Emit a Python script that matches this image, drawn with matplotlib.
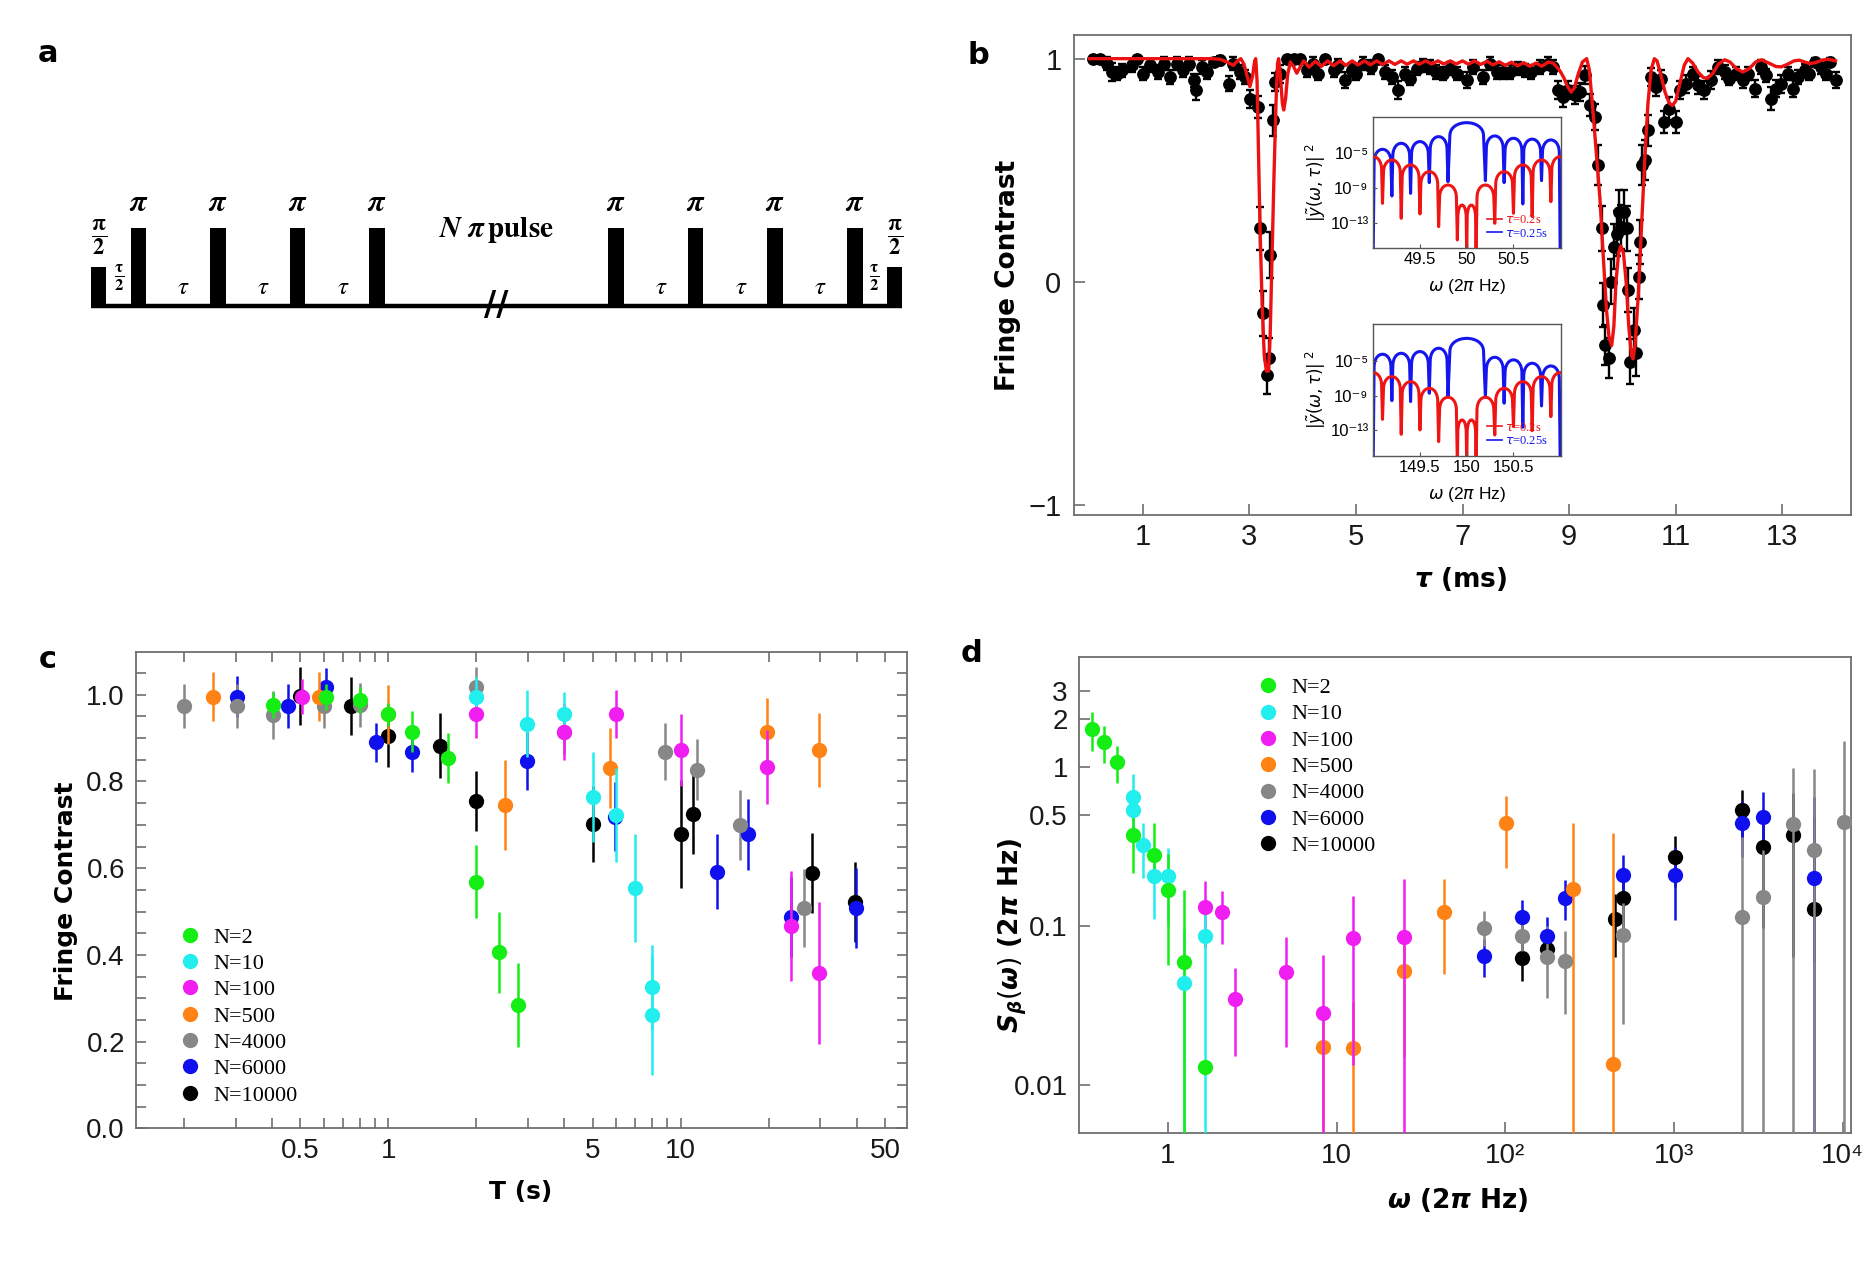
import matplotlib
matplotlib.use('Agg')
import matplotlib.pyplot as plt
from matplotlib.path import Path
from matplotlib.patches import PathPatch
from matplotlib.lines import Line2D
from matplotlib.ticker import FixedLocator, FixedFormatter, NullLocator

# ====================== DATA ======================
# ---- panel a : pulse sequence (positions in units of tau) ----
pi_pulse_pos = [0.5, 1.5, 2.5, 3.5, 6.5, 7.5, 8.5, 9.5]
half_pulse_pos = [0.0, 10.0]
pi_height = 1.0
half_height = 0.5
tau_label_pos = [1.0, 2.0, 3.0, 7.0, 8.0, 9.0]
half_tau_label_pos = [0.26, 9.74]
break_pos = 5.0

# ---- panel b : fringe contrast vs tau (ms) ----
tau_b = [0.075, 0.19, 0.325, 0.42, 0.51, 0.61, 0.79, 0.89, 1.01, 1.14, 1.29, 1.39, 1.51, 1.64, 1.76,
         1.86, 1.96, 2.0, 2.11, 2.2, 2.33, 2.45, 2.61, 2.7, 2.83, 2.92, 3.01, 3.16, 3.2, 3.25, 3.33,
         3.36, 3.39, 3.45, 3.48, 3.58, 3.7, 3.83, 3.95, 4.08, 4.2, 4.29, 4.42, 4.58, 4.67, 4.79,
         4.92, 5.01, 5.14, 5.29, 5.42, 5.54, 5.67, 5.79, 5.92, 6.01, 6.14, 6.26, 6.39, 6.51, 6.64,
         6.76, 6.89, 7.08, 7.2, 7.39, 7.51, 7.64, 7.76, 7.89, 8.04, 8.17, 8.29, 8.45, 8.61, 8.7,
         8.79, 8.89, 8.98, 9.11, 9.2, 9.29, 9.39, 9.49, 9.55, 9.61, 9.64, 9.68, 9.74, 9.79, 9.84,
         9.89, 9.94, 9.98, 10.03, 10.08, 10.11, 10.15, 10.21, 10.26, 10.31, 10.34, 10.37, 10.42,
         10.49, 10.54, 10.64, 10.73, 10.79, 10.87, 11.0, 11.08, 11.2, 11.33, 11.42, 11.54, 11.67,
         11.79, 11.92, 12.01, 12.14, 12.26, 12.36, 12.48, 12.61, 12.7, 12.79, 12.89, 12.98, 13.11,
         13.2, 13.29, 13.42, 13.51, 13.61, 13.73, 13.83, 13.89, 14.0]
fc_b = [1.0, 1.0, 0.978, 0.94, 0.933, 0.948, 0.97, 1.0, 0.933, 0.97, 0.94, 0.978, 0.918, 0.978, 0.948,
        0.978, 0.903, 0.858, 0.963, 0.94, 0.985, 0.993, 0.888, 0.978, 0.94, 0.918, 0.82, 0.784, 0.239,
        -0.142, -0.418, -0.343, 0.119, 0.724, 0.896, 0.933, 1.0, 1.0, 1.0, 0.948, 0.978, 0.933, 1.0,
        0.948, 0.97, 0.903, 0.948, 0.933, 0.978, 0.963, 1.0, 0.94, 0.918, 0.858, 0.933, 0.91, 0.955,
        0.97, 0.963, 0.94, 0.933, 0.955, 0.933, 0.903, 0.963, 0.918, 0.978, 0.94, 0.94, 0.94, 0.955,
        0.948, 0.94, 0.963, 0.978, 0.963, 0.858, 0.828, 0.858, 0.836, 0.851, 0.925, 0.791, 0.739,
        0.522, 0.239, -0.104, -0.284, -0.343, 0.0, 0.157, 0.216, 0.313, 0.246, 0.313, 0.239, -0.037,
        -0.358, -0.216, -0.321, 0.022, 0.179, 0.522, 0.545, 0.679, 0.918, 0.873, 0.91, 0.716, 0.776,
        0.716, 0.858, 0.888, 0.933, 0.881, 0.858, 0.903, 0.963, 0.94, 0.91, 0.933, 0.903, 0.933,
        0.866, 0.963, 0.925, 0.821, 0.866, 0.888, 0.933, 0.866, 0.918, 0.948, 0.933, 0.985, 0.963,
        0.933, 0.985, 0.903]
err_b = [0.01, 0.01, 0.03, 0.04, 0.03, 0.03, 0.03, 0.01, 0.03, 0.03, 0.03, 0.03, 0.03, 0.03, 0.03,
         0.03, 0.03, 0.045, 0.03, 0.03, 0.02, 0.02, 0.035, 0.03, 0.03, 0.03, 0.04, 0.05, 0.097,
         0.1, 0.085, 0.09, 0.104, 0.07, 0.04, 0.04, 0.01, 0.01, 0.01, 0.03, 0.03, 0.03, 0.01,
         0.03, 0.03, 0.035, 0.03, 0.03, 0.03, 0.03, 0.01, 0.03, 0.03, 0.04, 0.03, 0.03, 0.03,
         0.03, 0.03, 0.03, 0.03, 0.03, 0.03, 0.035, 0.03, 0.03, 0.03, 0.03, 0.03, 0.03, 0.03,
         0.03, 0.03, 0.03, 0.03, 0.03, 0.04, 0.045, 0.04, 0.04, 0.04, 0.04, 0.05, 0.06,
         0.09, 0.1, 0.1, 0.09, 0.09, 0.1, 0.1, 0.1, 0.1, 0.1, 0.1, 0.1, 0.1,
         0.1, 0.1, 0.1, 0.1, 0.1, 0.09, 0.09, 0.07, 0.04, 0.04, 0.04, 0.05, 0.05,
         0.05, 0.04, 0.04, 0.03, 0.04, 0.04, 0.04, 0.03, 0.03, 0.03, 0.03, 0.035, 0.03,
         0.04, 0.03, 0.03, 0.05, 0.04, 0.04, 0.03, 0.04, 0.03, 0.03, 0.03, 0.02, 0.03,
         0.03, 0.02, 0.035]

fit_tau = [0.0, 2.3, 2.45, 2.58, 2.7, 2.78, 2.84, 2.9, 2.96, 3.01, 3.06, 3.10, 3.12, 3.145, 3.17,
           3.2, 3.24, 3.28, 3.32, 3.36, 3.39, 3.42, 3.46, 3.5, 3.53, 3.55, 3.58, 3.62, 3.645, 3.68,
           3.72, 3.77, 3.83, 3.89, 3.95, 4.02, 4.12, 4.24, 4.35, 4.47, 4.58, 4.70, 4.81, 4.93, 5.04,
           5.16, 5.27, 5.39, 5.50, 5.62, 5.73, 5.85, 5.96, 6.08, 6.19, 6.31, 6.42, 6.54, 6.65, 6.77,
           6.88, 7.00, 7.11, 7.23, 7.34, 7.46, 7.57, 7.69, 7.80, 7.92, 8.03, 8.15, 8.26, 8.38, 8.49,
           8.61, 8.70, 8.76, 8.83, 8.9, 8.97, 9.04, 9.1, 9.17, 9.25, 9.33, 9.38, 9.45, 9.52, 9.58,
           9.64, 9.7, 9.75, 9.8, 9.84, 9.88, 9.93, 9.97, 10.02, 10.07, 10.12, 10.17, 10.2, 10.24,
           10.3, 10.36, 10.42, 10.48, 10.54, 10.6, 10.65, 10.72, 10.8, 10.88, 10.94, 11.0, 11.08,
           11.16, 11.23, 11.32, 11.42, 11.52, 11.6, 11.7, 11.8, 11.92, 12.02, 12.14, 12.26, 12.38,
           12.5, 12.61, 12.75, 12.88, 12.98, 13.1, 13.22, 13.32, 13.42, 13.52, 13.62, 13.74, 13.85,
           13.95, 14.0]
fit_fc = [1.0, 1.0, 0.997, 0.985, 0.97, 0.99, 1.0, 0.975, 0.92, 0.875, 0.92, 0.99, 1.0, 0.9, 0.6,
          0.25, -0.1, -0.33, -0.40, -0.40, -0.25, 0.05, 0.45, 0.8, 0.98, 1.0, 0.93, 0.8, 0.77, 0.82,
          0.93, 0.985, 0.965, 0.935, 0.96, 0.99, 0.962, 0.988, 0.965, 0.99, 0.968, 0.99, 0.97, 0.99,
          0.972, 0.99, 0.972, 0.99, 0.974, 0.99, 0.974, 0.99, 0.975, 0.99, 0.975, 0.99, 0.976, 0.99,
          0.976, 0.99, 0.976, 0.99, 0.975, 0.99, 0.974, 0.988, 0.972, 0.986, 0.97, 0.984, 0.968,
          0.982, 0.966, 0.98, 0.966, 0.985, 0.98, 0.965, 0.945, 0.915, 0.875, 0.85, 0.87, 0.93,
          0.985, 1.0, 0.95, 0.76, 0.55, 0.37, 0.12, -0.12, -0.25, -0.285, -0.2, 0.0, 0.13, 0.16,
          0.13, 0.0, -0.2, -0.33, -0.345, -0.28, -0.05, 0.25, 0.55, 0.8, 0.95, 1.0, 0.99, 0.93,
          0.85, 0.8, 0.79, 0.81, 0.89, 0.97, 1.0, 0.98, 0.94, 0.915, 0.912, 0.935, 0.975, 0.995,
          0.985, 0.955, 0.94, 0.955, 0.985, 0.995, 0.98, 0.965, 0.963, 0.975, 0.99, 0.993, 0.985,
          0.978, 0.982, 0.993, 0.997, 0.993, 0.99]

# ---- panel b insets : filter function (log10 values at notches and lobe tops) ----
in1_blue_notch_x = [49.0, 49.2, 49.4, 49.6, 49.8, 50.2, 50.4, 50.6, 50.8, 51.0]
in1_blue_notch_y = [-17, -9.93, -9.62, -8.39, -8.27, -8.16, -8.39, -10.85, -8.16, -17]
in1_blue_peak_y = [-4.54, -3.85, -3.65, -3.08, -1.47, -3.0, -3.27, -3.37, -3.46]
in1_red_notch_x = [48.9, 49.1, 49.3, 49.5, 49.7, 49.9, 50.0, 50.1, 50.3, 50.5, 50.7, 50.9, 51.1]
in1_red_notch_y = [-10.6, -10.77, -12.5, -12.0, -13.46, -15.0, -17, -17, -13.08, -11.92, -12.3, -10.58, -10.6]
in1_red_peak_y = [-5.39, -5.77, -6.35, -7.12, -8.66, -10.97, -10.97, -8.66, -7.12, -6.35, -5.77, -5.39]

in2_blue_notch_x = [149.0, 149.2, 149.4, 149.6, 149.8, 150.2, 150.4, 150.6, 150.8, 151.0]
in2_blue_notch_y = [-17, -9.58, -9.69, -8.73, -9.04, -9.19, -9.88, -12.65, -10.19, -17]
in2_blue_peak_y = [-4.23, -4.12, -3.92, -3.54, -2.4, -4.58, -4.88, -5.27, -5.58]
in2_red_notch_x = [148.9, 149.1, 149.3, 149.5, 149.7, 149.9, 150.0, 150.1, 150.3, 150.5, 150.7, 150.9, 151.1]
in2_red_notch_y = [-11.4, -11.73, -13.46, -12.96, -14.3, -17, -17, -17, -13.54, -12.57, -13.04, -11.42, -11.4]
in2_red_peak_y = [-6.35, -6.81, -7.39, -8.16, -9.19, -11.8, -11.8, -9.19, -8.16, -7.39, -6.81, -6.35]

# ---- panel c : fringe contrast vs T (s) ----
c_labels = ['N=2', 'N=10', 'N=100', 'N=500', 'N=4000', 'N=6000', 'N=10000']
c_T = [
    [0.404, 0.61, 0.80, 1.0, 1.208, 1.604, 2.0, 2.39, 2.78],
    [2.0, 2.99, 4.0, 5.0, 6.0, 6.98, 8.0, 8.0],
    [0.505, 2.0, 4.0, 6.0, 10.0, 19.8, 23.8, 29.7],
    [0.252, 0.579, 1.0, 2.5, 5.73, 19.8, 29.7],
    [0.2, 0.303, 0.404, 0.604, 0.80, 2.0, 4.0, 8.84, 11.4, 15.9, 26.4],
    [0.303, 0.454, 0.611, 0.905, 1.208, 2.99, 5.98, 13.3, 17.0, 23.8, 39.7],
    [0.5, 0.743, 1.0, 1.502, 2.0, 5.0, 10.0, 11.0, 28.2, 39.4],
]
c_val = [
    [0.977, 0.996, 0.987, 0.955, 0.915, 0.854, 0.569, 0.406, 0.285],
    [0.996, 0.933, 0.955, 0.765, 0.723, 0.555, 0.325, 0.262],
    [0.996, 0.955, 0.914, 0.956, 0.873, 0.833, 0.467, 0.358],
    [0.996, 0.996, 0.955, 0.746, 0.831, 0.914, 0.872],
    [0.975, 0.975, 0.954, 0.975, 0.977, 1.019, 0.914, 0.869, 0.827, 0.70, 0.508],
    [0.996, 0.975, 1.018, 0.89, 0.869, 0.848, 0.719, 0.592, 0.678, 0.488, 0.508],
    [0.997, 0.975, 0.906, 0.883, 0.755, 0.702, 0.679, 0.725, 0.589, 0.522],
]
c_err = [
    [0.03, 0.03, 0.03, 0.027, 0.048, 0.057, 0.085, 0.093, 0.097],
    [0.044, 0.077, 0.051, 0.104, 0.108, 0.125, 0.098, 0.138],
    [0.04, 0.054, 0.065, 0.056, 0.083, 0.085, 0.127, 0.164],
    [0.057, 0.057, 0.068, 0.104, 0.092, 0.078, 0.085],
    [0.051, 0.051, 0.055, 0.051, 0.051, 0.045, 0.05, 0.065, 0.07, 0.08, 0.09],
    [0.047, 0.051, 0.044, 0.044, 0.046, 0.067, 0.079, 0.087, 0.082, 0.092, 0.092],
    [0.066, 0.067, 0.072, 0.076, 0.069, 0.087, 0.124, 0.093, 0.092, 0.093],
]

# ---- panel d : noise spectrum ----
d_w = [
    [0.356, 0.417, 0.501, 0.623, 0.83, 1.0, 1.25, 1.66],
    [0.623, 0.623, 0.714, 0.83, 1.0, 1.25, 1.66],
    [1.66, 2.08, 2.5, 5.0, 8.33, 12.5, 25.0],
    [8.33, 12.5, 25.0, 43.5, 100.8, 252.7, 436],
    [75, 124.8, 175.7, 226.6, 500, 2538, 3350, 5045, 6780, 10170],
    [75, 124.8, 175.7, 226.6, 500, 1012, 2538, 3350, 6780],
    [124.8, 175.7, 448, 500, 1012, 2538, 3350, 5045, 6780],
]
d_S = [
    [1.73, 1.45, 1.085, 0.375, 0.281, 0.169, 0.0594, 0.013],
    [0.648, 0.539, 0.325, 0.207, 0.207, 0.0438, 0.087],
    [0.1316, 0.1225, 0.0349, 0.0514, 0.0284, 0.084, 0.0853],
    [0.0175, 0.0173, 0.0524, 0.1237, 0.449, 0.1726, 0.01355],
    [0.098, 0.0869, 0.0645, 0.0605, 0.0882, 0.114, 0.152, 0.44, 0.302, 0.455],
    [0.065, 0.115, 0.0874, 0.15, 0.209, 0.209, 0.449, 0.49, 0.201],
    [0.063, 0.072, 0.112, 0.15, 0.272, 0.539, 0.317, 0.375, 0.129],
]
d_lo = [
    [1.27, 1.07, 0.80, 0.215, 0.2, 0.057, 1e-4, 0.013],
    [0.46, 0.39, 0.2, 0.112, 0.1, 1e-4, 1e-4],
    [0.0727, 0.078, 0.0153, 0.0175, 1e-4, 0.0134, 1e-4],
    [1e-4, 1e-4, 0.015, 0.050, 0.234, 1e-4, 1e-4],
    [0.075, 0.07, 0.0356, 0.028, 0.0245, 1e-4, 1e-4, 1e-4, 1e-4, 1e-4],
    [0.048, 0.085, 0.06, 0.11, 0.155, 0.109, 0.274, 0.274, 1e-4],
    [0.0455, 0.06, 0.0645, 0.08, 0.178, 0.366, 0.098, 0.0645, 0.06],
]
d_hi = [
    [2.22, 1.82, 1.37, 0.62, 0.449, 0.285, 0.169, 0.013],
    [0.908, 0.65, 0.449, 0.31, 0.31, 0.0957, 0.12],
    [0.194, 0.168, 0.055, 0.086, 0.066, 0.156, 0.198],
    [0.030, 0.0336, 0.090, 0.198, 0.663, 0.445, 0.388],
    [0.125, 0.11, 0.1, 0.0935, 0.14, 0.366, 0.3, 0.99, 0.98, 1.47],
    [0.083, 0.146, 0.115, 0.195, 0.282, 0.314, 0.617, 0.703, 0.654],
    [0.08, 0.085, 0.16, 0.2, 0.372, 0.72, 0.48, 0.693, 0.49],
]

series_colors = ['#14ee14', '#22eeee', '#f01ef0', '#ff8214', '#878787', '#1010ee', '#000000']

# ====================== STYLE ======================
TICK_FONT = ['Liberation Sans Narrow', 'Liberation Sans', 'DejaVu Sans']
LABEL_FONT = ['DejaVu Sans']
SERIF = ['Liberation Serif', 'DejaVu Serif']
FRAME = '#6e6e6e'

W, H = 1875, 1275
fig = plt.figure(figsize=(W / 100, H / 100), dpi=100)


def box(l, t, r, b):
    return [l / W, 1 - b / H, (r - l) / W, (b - t) / H]


def style(ax, size=20, top=False, right=False, length=8):
    for s in ax.spines.values():
        s.set_color(FRAME)
        s.set_linewidth(1.3)
    ax.tick_params(which='both', direction='in', color=FRAME, width=1.2, length=length,
                   labelsize=size, labelcolor='#1a1a1a', top=top, right=right)
    for lab in ax.get_xticklabels() + ax.get_yticklabels():
        lab.set_family(TICK_FONT)


# ====================== PANEL a ======================
ax_a = fig.add_axes(box(60, 180, 930, 340))
ax_a.set_xlim(-0.485, 10.445)
ax_a.set_ylim(-0.436, 1.615)
ax_a.axis('off')
pw = 0.197
ax_a.bar(pi_pulse_pos, [pi_height] * len(pi_pulse_pos), width=pw, color='black', zorder=3)
ax_a.bar(half_pulse_pos, [half_height] * len(half_pulse_pos), width=pw, color='black', zorder=3)
ax_a.plot([half_pulse_pos[0] - pw / 2, half_pulse_pos[-1] + pw / 2], [0, 0], color='black',
          lw=3.2, solid_capstyle='butt', zorder=2)
ax_a.text(break_pos, 0, '//', fontsize=24, fontweight='bold', ha='center', va='center',
          family=LABEL_FONT, zorder=4)
for p in pi_pulse_pos:
    ax_a.text(p, pi_height + 0.14, r'$\mathbfit{\pi}$', fontsize=22, ha='center', va='bottom',
              math_fontfamily='stix')
for p in half_pulse_pos:
    ax_a.text(p, half_height + 0.12, r'$\mathbf{\frac{\pi}{2}}$', fontsize=23, ha='center',
              va='bottom', math_fontfamily='stix')
for p in tau_label_pos:
    ax_a.text(p + 0.07, 0.24, r'$\tau$', fontsize=18, ha='center', va='center',
              math_fontfamily='stix')
for p in half_tau_label_pos:
    ax_a.text(p, 0.36, r'$\mathbf{\frac{\tau}{2}}$', fontsize=17, ha='center', va='center',
              math_fontfamily='stix')
ax_a.text(break_pos, 0.97, r'$\mathbfit{N}\ \mathbfit{\pi}\,\mathbf{pulse}$', fontsize=21,
          ha='center', va='center', math_fontfamily='stix')

# ====================== PANEL b ======================
ax_b = fig.add_axes(box(1074, 35, 1851, 515))
ax_b.errorbar(tau_b, fc_b, yerr=err_b, fmt='o', ms=8.2, color='black', ecolor='black',
              elinewidth=1.7, capsize=2.8, capthick=1.7, zorder=2)
ax_b.plot(fit_tau, fit_fc, color='#ee1111', lw=2.4, zorder=3)
ax_b.set_xlim(-0.29, 14.29)
ax_b.set_ylim(-1.045, 1.106)
ax_b.set_xticks([1, 3, 5, 7, 9, 11, 13])
ax_b.set_yticks([-1, 0, 1])
ax_b.set_yticklabels(['\u22121', '0', '1'])
style(ax_b, size=21)
ax_b.tick_params(axis='y', pad=9)
ax_b.tick_params(axis='x', pad=6)
ax_b.set_xlabel(r'$\mathbfit{\tau}$ (ms)', fontsize=19, fontweight='bold', family=LABEL_FONT,
                va='center')
ax_b.xaxis.set_label_coords(0.498, -0.133)
ax_b.set_ylabel('Fringe Contrast', fontsize=19, fontweight='bold', family=LABEL_FONT, va='center')
ax_b.yaxis.set_label_coords(-0.085, 0.5)


def draw_lobes(ax, nx, ny, peaks, color):
    verts, codes = [], []
    for i, p in enumerate(peaks):
        a, b = nx[i], nx[i + 1]
        w = b - a
        if i == 0:
            verts.append((a, ny[i]))
            codes.append(Path.MOVETO)
        verts += [(a + 0.05 * w, p - 1.5), (a + 0.05 * w, p + 0.5), (b - 0.05 * w, p + 0.5),
                  (b - 0.05 * w, p - 1.5), (b, ny[i + 1])]
        codes += [Path.LINETO, Path.CURVE4, Path.CURVE4, Path.CURVE4, Path.LINETO]
    ax.add_patch(PathPatch(Path(verts, codes), fill=False, edgecolor=color, lw=2.2,
                           joinstyle='round'))


def inset(rect, bnx, bny, bp, rnx, rny, rp, xt, xl):
    ax = fig.add_axes(rect)
    draw_lobes(ax, bnx, bny, bp, '#1515ee')
    draw_lobes(ax, rnx, rny, rp, '#ee1515')
    ax.set_xlim(bnx[0] - 0.005, bnx[-1] + 0.005)
    ax.set_ylim(-15.96, -0.78)
    ax.set_xticks(xt)
    ax.set_xticklabels(xl)
    ax.set_yticks([-5, -9, -13])
    ax.set_yticklabels(['10\u207b\u2075', '10\u207b\u2079', '10\u207b\u00b9\u00b3'])
    for s in ax.spines.values():
        s.set_color('#555555')
        s.set_linewidth(1.0)
    ax.tick_params(direction='in', length=3, width=0.8, color='#555555', labelsize=12, pad=3)
    for lab in ax.get_xticklabels() + ax.get_yticklabels():
        lab.set_family(['Liberation Sans', 'DejaVu Sans'])
    ax.set_xlabel(r'$\omega$ (2$\pi$ Hz)', fontsize=12.5,
                  family=['Liberation Sans', 'DejaVu Sans'], labelpad=7)
    ax.set_ylabel(r'$|\tilde{y}(\omega,\tau)|^{\ 2}$', fontsize=12, labelpad=2)
    handles = [Line2D([], [], color='#ee1515', lw=1.2), Line2D([], [], color='#1515ee', lw=1.2)]
    leg = ax.legend(handles, [r'$\tau$=0.2s', r'$\tau$=0.25s'], loc='lower left',
                    bbox_to_anchor=(0.56, 0.0), frameon=False, handlelength=1.2,
                    handletextpad=0.3, labelspacing=0.12, borderpad=0.2,
                    prop={'family': SERIF, 'size': 9})
    for t, c in zip(leg.get_texts(), ['#ee1515', '#1515ee']):
        t.set_color(c)
    return ax


inset(box(1372.7, 116.7, 1560.7, 248.3), in1_blue_notch_x, in1_blue_notch_y, in1_blue_peak_y,
      in1_red_notch_x, in1_red_notch_y, in1_red_peak_y, [49.5, 50, 50.5], ['49.5', '50', '50.5'])
inset(box(1372.7, 324.3, 1560.7, 456.0), in2_blue_notch_x, in2_blue_notch_y, in2_blue_peak_y,
      in2_red_notch_x, in2_red_notch_y, in2_red_peak_y, [149.5, 150, 150.5],
      ['149.5', '150', '150.5'])

# ====================== PANEL c ======================
MS = 11
ax_c = fig.add_axes(box(136, 652.3, 906.7, 1128.3))
ax_c.set_xscale('log')
nser = len(c_labels)
for i in range(nser):
    ax_c.errorbar(c_T[i], c_val[i], yerr=c_err[i], fmt='o', ms=MS, mew=0,
                  color=series_colors[i], ecolor=series_colors[i], elinewidth=1.8, capsize=3,
                  capthick=1.8, zorder=10 - i * 0.1)
ax_c.set_xlim(0.137, 59.3)
ax_c.set_ylim(0, 1.098)
ax_c.xaxis.set_major_locator(FixedLocator([0.5, 1, 5, 10, 50]))
ax_c.xaxis.set_major_formatter(FixedFormatter(['0.5', '1', '5', '10', '50']))
ax_c.xaxis.set_minor_locator(FixedLocator([0.2, 0.3, 0.4, 0.6, 0.7, 0.8, 0.9, 2, 3, 4, 6, 7, 8, 9,
                                           20, 30, 40]))
ax_c.yaxis.set_major_locator(FixedLocator([0, 0.2, 0.4, 0.6, 0.8, 1.0]))
ax_c.yaxis.set_major_formatter(FixedFormatter(['0.0', '0.2', '0.4', '0.6', '0.8', '1.0']))
ax_c.yaxis.set_minor_locator(FixedLocator([0.05, 0.1, 0.15, 0.25, 0.3, 0.35, 0.45, 0.5, 0.55,
                                           0.65, 0.7, 0.75, 0.85, 0.9, 0.95, 1.05]))
style(ax_c, size=20, top=True, right=True, length=7)
ax_c.tick_params(axis='y', pad=8)
ax_c.tick_params(axis='x', pad=7)
ax_c.set_xlabel('T (s)', fontsize=18, fontweight='bold', family=LABEL_FONT, va='center')
ax_c.xaxis.set_label_coords(0.4995, -0.134)
ax_c.set_ylabel('Fringe Contrast', fontsize=18, fontweight='bold', family=LABEL_FONT, va='center')
ax_c.yaxis.set_label_coords(-0.091, 0.4985)
leg_handles = [Line2D([], [], ls='', marker='o', ms=MS, mew=0, color=c) for c in series_colors]
ax_c.legend(leg_handles, c_labels, loc='upper left', bbox_to_anchor=(179 / W, 1 - 927 / H),
            bbox_transform=fig.transFigure, frameon=False, borderpad=0, borderaxespad=0,
            handlelength=1.0, handletextpad=0.55, labelspacing=0.26,
            prop={'family': SERIF, 'size': 16})

# ====================== PANEL d ======================
ax_d = fig.add_axes(box(1079, 656.7, 1850.7, 1133.3))
ax_d.set_xscale('log')
ax_d.set_yscale('log')
for i in range(nser):
    yerr = [[s - l for s, l in zip(d_S[i], d_lo[i])], [h - s for s, h in zip(d_S[i], d_hi[i])]]
    ax_d.errorbar(d_w[i], d_S[i], yerr=yerr, fmt='o', ms=MS, mew=0, color=series_colors[i],
                  ecolor=series_colors[i], elinewidth=1.8, capsize=3, capthick=1.8,
                  zorder=10 - i * 0.1)
ax_d.set_xlim(0.297, 11140)
ax_d.set_ylim(0.005, 4.96)
ax_d.xaxis.set_major_locator(FixedLocator([1, 10, 100, 1000, 10000]))
ax_d.xaxis.set_major_formatter(FixedFormatter(['1', '10', '10\u00b2', '10\u00b3', '10\u2074']))
ax_d.xaxis.set_minor_locator(NullLocator())
ax_d.yaxis.set_major_locator(FixedLocator([0.01, 0.1, 0.5, 1, 2, 3]))
ax_d.yaxis.set_major_formatter(FixedFormatter(['0.01', '0.1', '0.5', '1', '2', '3']))
ax_d.yaxis.set_minor_locator(NullLocator())
style(ax_d, size=20, length=8)
ax_d.tick_params(axis='y', pad=8)
ax_d.tick_params(axis='x', pad=7)
ax_d.set_xlabel(r'$\mathbfit{\omega}$ (2$\mathbfit{\pi}$ Hz)', fontsize=19, fontweight='bold',
                family=LABEL_FONT, va='center')
ax_d.xaxis.set_label_coords(0.491, -0.139)
ax_d.set_ylabel(r'$\mathbfit{S}_{\mathbfit{\beta}}(\mathbfit{\omega})$ (2$\mathbfit{\pi}$ Hz)',
                fontsize=19, fontweight='bold', family=LABEL_FONT, va='center')
ax_d.yaxis.set_label_coords(-0.086, 0.416)
ax_d.legend(leg_handles, c_labels, loc='upper left', bbox_to_anchor=(1256.5 / W, 1 - 677.5 / H),
            bbox_transform=fig.transFigure, frameon=False, borderpad=0, borderaxespad=0,
            handlelength=1.0, handletextpad=0.55, labelspacing=0.26,
            prop={'family': SERIF, 'size': 16})

# ====================== panel letters ======================
for lab, (x, y) in zip(['a', 'b', 'c', 'd'], [(48, 54), (978, 56), (48, 659), (972, 654)]):
    fig.text(x / W, 1 - y / H, lab, fontsize=22, fontweight='bold', family=LABEL_FONT,
             ha='center', va='center')

fig.savefig('out.png', dpi=100, facecolor='white')
